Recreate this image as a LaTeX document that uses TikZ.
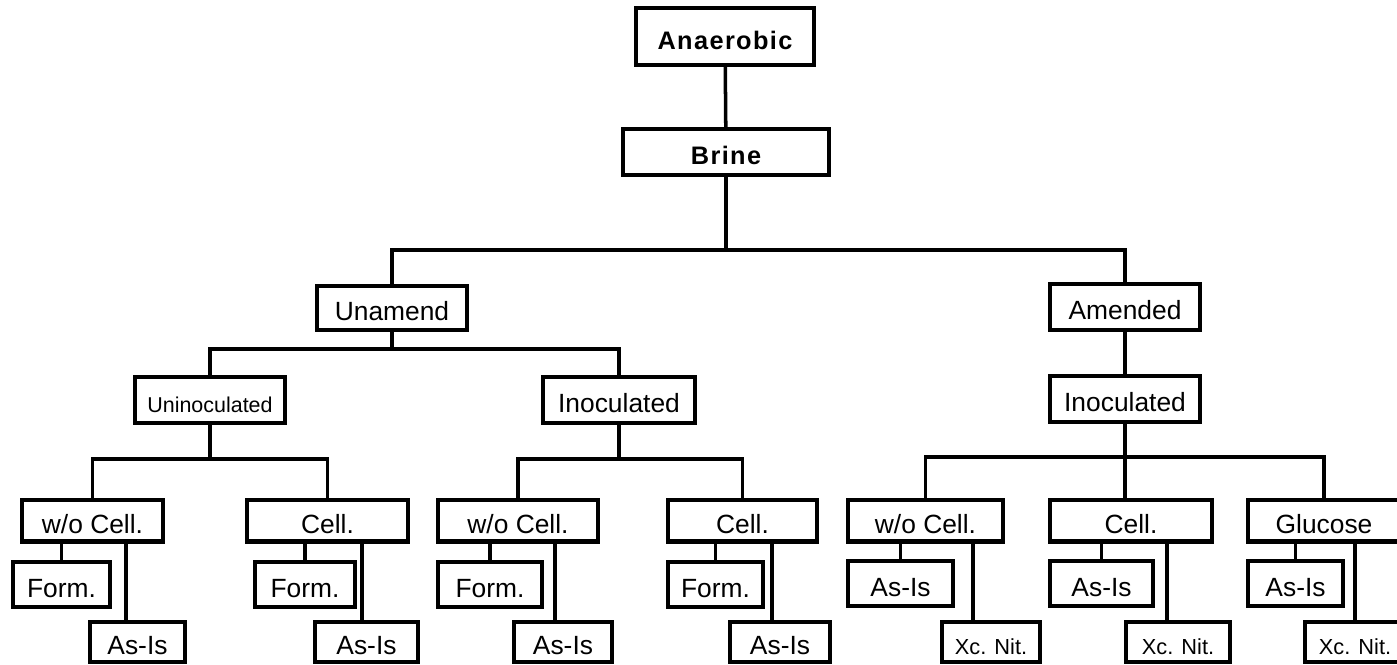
\documentclass[tikz,border=0pt]{standalone}
\usepackage{fontspec}
\setmainfont{Liberation Sans}
\begin{document}
\begin{tikzpicture}[x=0.01cm,y=-0.01cm,
  box/.style={draw,line width=1.15pt,inner sep=0pt,text height=0.72em,text depth=0pt,
    font=\fontsize{7.5}{8}\selectfont},
  headbox/.style={box,font=\fontsize{7.2}{8}\selectfont\bfseries\addfontfeature{LetterSpace=5.5}},
  boxs/.style={box,font=\fontsize{6.1}{7}\selectfont},
  boxxs/.style={box,font=\fontsize{6.2}{7}\selectfont},
  link/.style={line width=1pt}]
\clip (0,0) rectangle (1397,665);

\node[headbox,minimum width=1.78cm,minimum height=0.57cm] (anaer) at (725,36.5) {Anaerobic};
\node[headbox,minimum width=2.06cm,minimum height=0.46cm] (brine) at (726,152) {Brine};
\node[box,minimum width=1.5cm,minimum height=0.44cm] (unam) at (392,308) {Unamend};
\node[box,minimum width=1.5cm,minimum height=0.46cm] (amend) at (1125,307) {Amended};
\node[boxs,minimum width=1.5cm,minimum height=0.46cm] (uninoc) at (210,400) {Uninoculated};
\node[box,minimum width=1.52cm,minimum height=0.46cm] (inocL) at (619,400) {Inoculated};
\node[box,minimum width=1.5cm,minimum height=0.46cm] (inocR) at (1125,399) {Inoculated};

\begin{scope}[every node/.append style={minimum height=0.41cm}]
\node[box,minimum width=1.41cm] (woA) at (92.5,521) {w/o Cell.};
\node[box,minimum width=1.61cm] (cellA) at (327.5,521) {Cell.};
\node[box,minimum width=1.6cm] (woB) at (518,521) {w/o Cell.};
\node[box,minimum width=1.49cm] (cellB) at (742.5,521) {Cell.};
\node[box,minimum width=1.55cm] (woC) at (925.5,521) {w/o Cell.};
\node[box,minimum width=1.62cm] (cellC) at (1131,521) {Cell.};
\node[box,minimum width=1.52cm] (gluc) at (1324,521) {Glucose};
\end{scope}

\begin{scope}[every node/.append style={minimum height=0.45cm}]
\node[box,minimum width=0.97cm] (formA) at (61.5,584.5) {Form.};
\node[box,minimum width=1cm] (formB) at (305,584.5) {Form.};
\node[box,minimum width=1.04cm] (formC) at (490,584.5) {Form.};
\node[box,minimum width=0.95cm] (formD) at (715.5,584.5) {Form.};
\node[box,minimum width=1.05cm] (asD) at (900.5,583.5) {As-Is};
\node[box,minimum width=1.03cm] (asE) at (1101.5,583.5) {As-Is};
\node[box,minimum width=0.95cm] (asF) at (1295.5,583.5) {As-Is};
\end{scope}

\begin{scope}[every node/.append style={minimum height=0.4cm}]
\node[box,minimum width=0.95cm] (asA) at (137.5,642) {As-Is};
\node[box,minimum width=1.03cm] (asB) at (366.5,642) {As-Is};
\node[box,minimum width=0.98cm] (asC) at (563,642) {As-Is};
\node[box,minimum width=1cm] (asG) at (780,642) {As-Is};
\node[boxxs,minimum width=0.98cm] (xcA) at (991,642) {Xc. Nit.};
\node[boxxs,minimum width=1.04cm] (xcB) at (1178,642) {Xc. Nit.};
\node[boxxs,minimum width=1cm] (xcC) at (1355,642) {Xc. Nit.};
\end{scope}

\coordinate (j1) at (726,250);
\coordinate (j2) at (392,349);
\coordinate (j3) at (210,459);
\coordinate (j4) at (619,459);
\coordinate (j5) at (1125,457);

\draw[link] (anaer) -- (brine);
\draw[link] (brine) -- (j1) (j1) -| (unam) (j1) -| (amend);
\draw[link] (amend) -- (inocR);
\draw[link] (unam) -- (j2) (j2) -| (uninoc) (j2) -| (inocL);
\draw[link] (uninoc) -- (j3) (j3) -| (woA) (j3) -| (cellA);
\draw[link] (inocL) -- (j4) (j4) -| (woB) (j4) -| (cellB);
\draw[link] (inocR) -- (j5) (j5) -| (woC) (j5) -- (j5 |- cellC.north) (j5) -| (gluc);

\foreach \p/\a/\b/\s in {woA/formA/asA/-1.15,cellA/formB/asB/-0.45,woB/formC/asC/-0.8,
  cellB/formD/asG/-0.8,woC/asD/xcA/-1.8,cellC/asE/xcB/-1.1,gluc/asF/xcC/0}{
  \draw[link] (\p.south -| \a) -- (\a.north);
  \draw[link] ([xshift=\s mm]\b.north) -- ([xshift=\s mm]\b.north |- \p.south);
}
\end{tikzpicture}
\end{document}
